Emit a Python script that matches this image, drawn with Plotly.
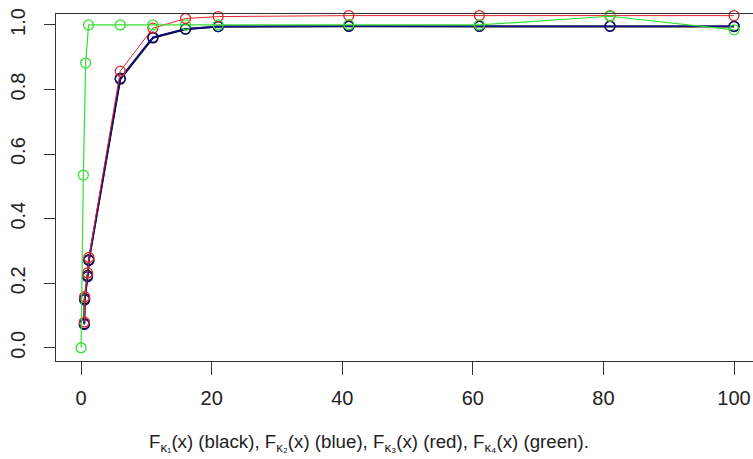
import plotly.graph_objects as go

# data
x_k1 = [0.5, 0.55, 1.0, 1.2, 6, 11, 16, 21, 41, 61, 81, 100]
y_k1 = [0.075, 0.152, 0.224, 0.273, 0.832, 0.96, 0.987, 0.995, 0.996, 0.996, 0.996, 0.995]

x_k2 = [0.5, 0.55, 1.0, 1.2, 6, 11, 16, 21, 41, 61, 81, 100]
y_k2 = [0.072, 0.148, 0.22, 0.27, 0.835, 0.962, 0.988, 0.995, 0.996, 0.996, 0.996, 0.996]

x_k3 = [0.5, 0.55, 1.0, 1.2, 6, 11, 16, 21, 41, 61, 81, 100]
y_k3 = [0.08, 0.158, 0.232, 0.28, 0.857, 0.99, 1.02, 1.026, 1.029, 1.029, 1.029, 1.029]

x_k4 = [0, 0.35, 0.7, 1.15, 6, 11, 16, 21, 41, 61, 81, 100]
y_k4 = [0.0, 0.535, 0.882, 1.0, 1.0, 1.0, 1.0, 1.0, 1.001, 1.0, 1.027, 0.985]

x_ticks = [0, 20, 40, 60, 80, 100]
y_ticks = [0.0, 0.2, 0.4, 0.6, 0.8, 1.0]
y_tick_labels = ["0.0", "0.2", "0.4", "0.6", "0.8", "1.0"]

series = [
    (x_k1, y_k1, "black", 2.0),
    (x_k2, y_k2, "#10108a", 1.6),
    (x_k3, y_k3, "#e02a2a", 1.0),
    (x_k4, y_k4, "#33e033", 1.2),
]

fig = go.Figure()
for xs, ys, col, w in series:
    fig.add_trace(go.Scatter(
        x=xs, y=ys, mode="lines+markers",
        line=dict(color=col, width=w),
        marker=dict(symbol="circle-open", size=10, color=col, line=dict(width=1.3, color=col)),
        showlegend=False, cliponaxis=False,
    ))

W, H = 753, 459
left, top, bottom = 56, 14, 361
fig.update_layout(
    width=W, height=H,
    margin=dict(l=left, r=0, t=top, b=H - bottom, autoexpand=False),
    paper_bgcolor="white", plot_bgcolor="white",
    font=dict(family="Liberation Sans, Arial, sans-serif", size=20, color="#222"),
)
fig.update_xaxes(
    range=[-3.84, 102.9], tickmode="array", tickvals=x_ticks,
    ticks="outside", ticklen=13, tickwidth=1, tickcolor="#333",
    showgrid=False, zeroline=False, automargin=False,
    showline=True, linecolor="#333", linewidth=1.2, mirror=True,
    tickfont=dict(size=20, color="#222"), ticklabelstandoff=6,
)
fig.update_yaxes(
    range=[-0.041, 1.034], tickmode="array", tickvals=y_ticks, ticktext=y_tick_labels,
    ticks="outside", ticklen=11, tickwidth=1, tickcolor="#333",
    showgrid=False, zeroline=False, automargin=False,
    showline=True, linecolor="#333", linewidth=1.2, mirror=False,
    tickangle=-90, tickfont=dict(size=20, color="#222"), ticklabelstandoff=11,
)
fig.add_annotation(
    x=0.449, y=-0.236, xref="paper", yref="paper", showarrow=False,
    text="F<sub>κ₁</sub>(x) (black), F<sub>κ₂</sub>(x) (blue), F<sub>κ₃</sub>(x) (red), F<sub>κ₄</sub>(x) (green).",
    font=dict(size=18.7, color="#222"),
    xanchor="center", yanchor="middle",
)
fig.write_html(
    "out.html",
    config={"displayModeBar": False},
    post_script="document.body.style.margin='0';document.body.style.overflow='hidden';",
)
